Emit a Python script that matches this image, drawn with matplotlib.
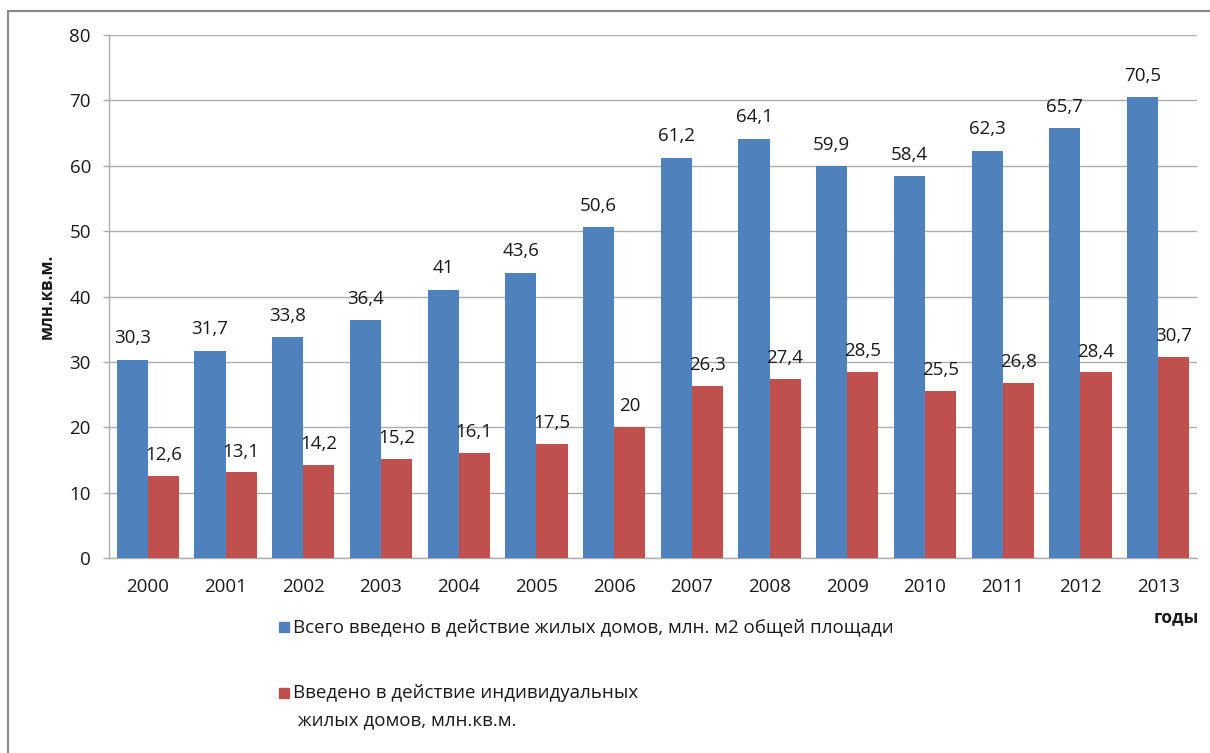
import matplotlib
matplotlib.use("Agg")
import matplotlib.pyplot as plt
import numpy as np
from matplotlib.patches import Rectangle

plt.rcParams['font.family'] = ['Open Sans', 'DejaVu Sans']

years = ['2000', '2001', '2002', '2003', '2004', '2005', '2006',
         '2007', '2008', '2009', '2010', '2011', '2012', '2013']
total = [30.3, 31.7, 33.8, 36.4, 41, 43.6, 50.6, 61.2, 64.1, 59.9, 58.4, 62.3, 65.7, 70.5]
individual = [12.6, 13.1, 14.2, 15.2, 16.1, 17.5, 20, 26.3, 27.4, 28.5, 25.5, 26.8, 28.4, 30.7]
label_total = 'Всего введено в действие жилых домов, млн. м2 общей площади'
label_ind_1 = 'Введено в действие индивидуальных'
label_ind_2 = ' жилых домов, млн.кв.м.'
y_label = 'млн.кв.м.'
x_label = 'годы'
yticks = [0, 10, 20, 30, 40, 50, 60, 70, 80]

blue = '#4F81BD'
red = '#C0504D'
grid_c = '#ADADAD'
txt_c = '#1a1a1a'
fs = 13.5

W, H = 1210, 753
fig = plt.figure(figsize=(W / 100, H / 100), dpi=100)
fig.patch.set_facecolor('white')

def fx(px):
    return px / W

def fy(py):
    return 1 - py / H

ax = fig.add_axes([fx(109), fy(558), fx(1197) - fx(109), fy(35) - fy(558)])

x = np.arange(len(years))
w = 0.4
b1 = ax.bar(x - w / 2, total, w, color=blue, zorder=3)
b2 = ax.bar(x + w / 2, individual, w, color=red, zorder=3)

def fmt(v):
    return ('%g' % v).replace('.', ',')

for rect, v in zip(b1, total):
    ax.annotate(fmt(v), (rect.get_x() + rect.get_width() / 2, v),
                xytext=(0, 15.5), textcoords='offset points',
                ha='center', va='center', fontsize=fs, color=txt_c)
for rect, v in zip(b2, individual):
    ax.annotate(fmt(v), (rect.get_x() + rect.get_width() / 2, v),
                xytext=(0, 15), textcoords='offset points',
                ha='center', va='center', fontsize=fs, color=txt_c)

ax.set_xlim(-0.5, len(years) - 0.5)
ax.set_ylim(0, 80)
ax.set_yticks(yticks)
ax.set_yticklabels([str(t) for t in yticks])
ax.set_xticks(x)
ax.set_xticklabels(years)
ax.tick_params(axis='y', length=4, width=1, color=grid_c, pad=9, labelsize=fs, labelcolor=txt_c)
ax.tick_params(axis='x', length=0, pad=14.5, labelsize=fs, labelcolor=txt_c)
ax.yaxis.grid(True, color=grid_c, lw=1, zorder=0)
ax.set_axisbelow(True)
for s in ['top', 'right']:
    ax.spines[s].set_visible(False)
for s in ['left', 'bottom']:
    ax.spines[s].set_color(grid_c)
    ax.spines[s].set_linewidth(1)

ax.set_ylabel(y_label, fontsize=12, fontweight='bold', color=txt_c, labelpad=10)

fig.text(fx(1199), fy(617), x_label, ha='right', va='center',
         fontsize=12.5, fontweight='bold', color=txt_c)

# legend (manual)
sq = 10
fig.patches.append(Rectangle((fx(279), fy(632)), sq / W, sq / H,
                             transform=fig.transFigure, color=blue, figure=fig))
fig.text(fx(293), fy(627), label_total, ha='left', va='center', fontsize=fs, color=txt_c)
fig.patches.append(Rectangle((fx(279), fy(698)), sq / W, sq / H,
                             transform=fig.transFigure, color=red, figure=fig))
fig.text(fx(293), fy(693), label_ind_1, ha='left', va='center', fontsize=fs, color=txt_c)
fig.text(fx(293), fy(720), label_ind_2, ha='left', va='center', fontsize=fs, color=txt_c)

# outer chart frame
fig.patches.append(Rectangle((fx(8), fy(770)), fx(1230) - fx(8), fy(11) - fy(770),
                             transform=fig.transFigure, fill=False,
                             edgecolor='#8a8a8a', lw=1.6, figure=fig))

fig.savefig('out.png', dpi=100)
